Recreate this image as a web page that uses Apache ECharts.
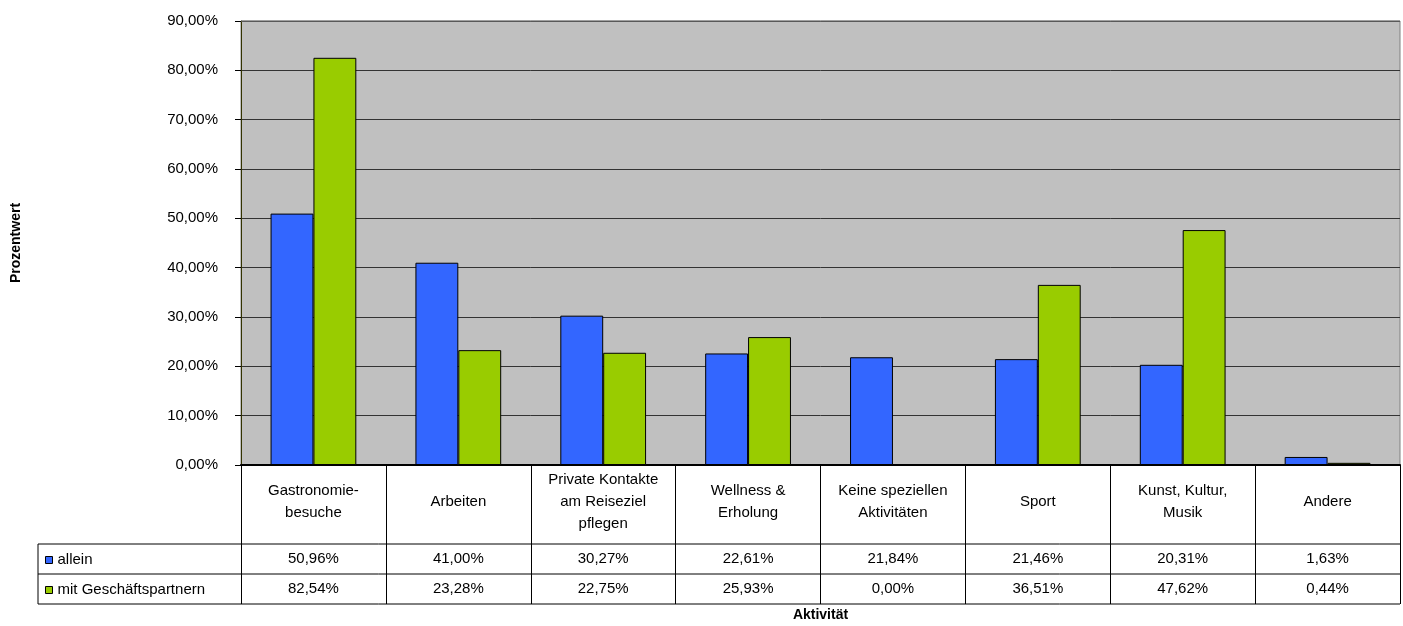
<!DOCTYPE html>
<html>
<head>
<meta charset="utf-8">
<script src="https://cdn.jsdelivr.net/npm/echarts@6/dist/echarts.min.js"></script>
<style>
html,body{margin:0;padding:0;background:#fff;}
#chart{width:1403px;height:626px;}
</style>
</head>
<body>
<div id="chart"></div>
<script>
const categories = [
  "Gastronomie-\nbesuche",
  "Arbeiten",
  "Private Kontakte\nam Reiseziel\npflegen",
  "Wellness &\nErholung",
  "Keine speziellen\nAktivitäten",
  "Sport",
  "Kunst, Kultur,\nMusik",
  "Andere"
];
const seriesNames = ["allein", "mit Geschäftspartnern"];
const allein = [50.96, 41.00, 30.27, 22.61, 21.84, 21.46, 20.31, 1.63];
const mitPartnern = [82.54, 23.28, 22.75, 25.93, 0.00, 36.51, 47.62, 0.44];
const yTicks = { min: 0, max: 90, interval: 10 };

const FONT = 'Liberation Sans, Arial, sans-serif';
const fmt = v => v.toFixed(2).replace('.', ',') + '%';

const chart = echarts.init(document.getElementById('chart'));

const plotLeft = 241, plotRight = 1400, plotBottom = 465;
const rowLines = [544, 574, 604];
const tableLeft = 38;

const graphics = rowLines.map(y => ({
  type: 'line', silent: true,
  shape: { x1: tableLeft, y1: y, x2: plotRight, y2: y },
  style: { stroke: '#000', lineWidth: 1 }
}));
graphics.push({
  type: 'line', silent: true,
  shape: { x1: tableLeft, y1: rowLines[0], x2: tableLeft, y2: rowLines[2] },
  style: { stroke: '#000', lineWidth: 1 }
});
graphics.push({
  type: 'line', silent: true, z: 100,
  shape: { x1: plotLeft, y1: 21, x2: plotRight, y2: 21 },
  style: { stroke: '#808080', lineWidth: 1 }
});

chart.setOption({
  animation: false,
  textStyle: { fontFamily: FONT, color: '#000' },
  grid: {
    left: plotLeft, right: 1403 - plotRight, top: 21, bottom: 626 - plotBottom,
    outerBoundsMode: 'none', containLabel: false,
    show: true, backgroundColor: '#C0C0C0', borderColor: '#808080', borderWidth: 1
  },
  legend: {
    orient: 'vertical', left: 40, top: 547,
    itemWidth: 7, itemHeight: 7, itemGap: 14,
    icon: 'rect',
    itemStyle: { borderColor: '#000', borderWidth: 1 },
    textStyle: { fontSize: 15, lineHeight: 16, color: '#000', fontFamily: FONT },
    data: seriesNames
  },
  xAxis: [
    {
      type: 'category', data: categories, position: 'bottom',
      axisLine: { show: true, lineStyle: { color: '#000', width: 2 } },
      axisTick: { show: true, interval: 0, length: 139, lineStyle: { color: '#000', width: 1 } },
      axisLabel: { interval: 0, fontSize: 15, lineHeight: 22, margin: 37, verticalAlign: 'middle', color: '#000', fontFamily: FONT },
      name: 'Aktivität', nameLocation: 'middle', nameGap: 150,
      nameTextStyle: { fontSize: 14, fontWeight: 'bold', verticalAlign: 'middle', color: '#000', fontFamily: FONT }
    },
    {
      type: 'category', data: categories, position: 'bottom', offset: 94,
      axisLine: { show: false }, axisTick: { show: false },
      axisLabel: { interval: 0, fontSize: 15, margin: 0, verticalAlign: 'middle', color: '#000', fontFamily: FONT,
        formatter: (v, i) => fmt(allein[i]) }
    },
    {
      type: 'category', data: categories, position: 'bottom', offset: 124,
      axisLine: { show: false }, axisTick: { show: false },
      axisLabel: { interval: 0, fontSize: 15, margin: 0, verticalAlign: 'middle', color: '#000', fontFamily: FONT,
        formatter: (v, i) => fmt(mitPartnern[i]) }
    }
  ],
  yAxis: {
    type: 'value', min: yTicks.min, max: yTicks.max, interval: yTicks.interval,
    axisLine: { show: true, lineStyle: { color: '#333300', width: 1 } },
    axisTick: { show: true, length: 6, lineStyle: { color: '#000' } },
    axisLabel: { fontSize: 15, margin: 23, color: '#000', fontFamily: FONT, formatter: v => fmt(v) },
    splitLine: { show: true, lineStyle: { color: '#333', width: 1 } },
    name: 'Prozentwert', nameLocation: 'middle', nameGap: 225, nameRotate: 90,
    nameTextStyle: { fontSize: 14, fontWeight: 'bold', verticalAlign: 'middle', color: '#000', fontFamily: FONT }
  },
  series: [
    {
      name: seriesNames[0], type: 'bar', data: allein, xAxisIndex: 0,
      barWidth: '29.6%', barGap: '0%',
      itemStyle: { color: '#3366FF', borderColor: '#000', borderWidth: 1 }
    },
    {
      name: seriesNames[1], type: 'bar', data: mitPartnern, xAxisIndex: 0,
      barWidth: '29.6%', barGap: '0%',
      itemStyle: { color: '#99CC00', borderColor: '#000', borderWidth: 1 }
    }
  ],
  graphic: graphics
});
</script>
</body>
</html>
